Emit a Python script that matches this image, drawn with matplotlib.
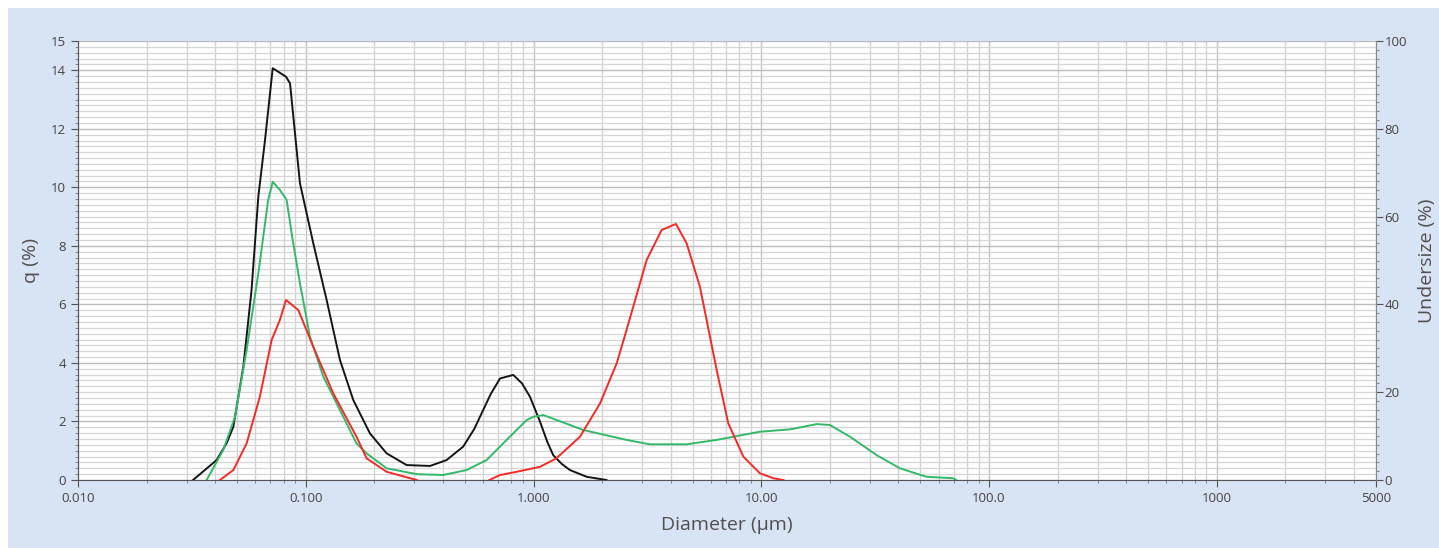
import matplotlib.pyplot as plt
from matplotlib.patches import Rectangle
from matplotlib.ticker import FixedLocator, MultipleLocator, NullFormatter

# particle size distributions, q (%) vs diameter (um)
black_d = [0.032, 0.0406, 0.0449, 0.0481, 0.0532, 0.0578, 0.0619, 0.0662, 0.0716, 0.0819,
           0.0853, 0.0943, 0.1079, 0.1235, 0.1413, 0.1617, 0.1914, 0.2265, 0.2773,
           0.351, 0.415, 0.491, 0.55, 0.601, 0.65, 0.713, 0.815, 0.89, 0.964, 1.067, 1.15,
           1.22, 1.33, 1.445, 1.71, 2.09]
black_q = [0.0, 0.68, 1.25, 1.82, 3.87, 6.49, 9.68, 11.6, 14.07, 13.78,
           13.55, 10.14, 8.09, 6.15, 4.1, 2.73, 1.59, 0.91, 0.51,
           0.48, 0.68, 1.14, 1.75, 2.39, 2.95, 3.47, 3.59, 3.3, 2.85, 2.0, 1.3,
           0.85, 0.55, 0.34, 0.11, 0.0]

green_d = [0.0367, 0.0434, 0.0489, 0.055, 0.0619, 0.0684, 0.0716, 0.077, 0.0824, 0.0867,
           0.0943, 0.1043, 0.1194, 0.1413, 0.167, 0.185, 0.2265, 0.307, 0.401, 0.508,
           0.622, 0.762, 0.933, 1.0, 1.104, 1.652, 2.56, 3.24, 4.7, 6.37, 9.86, 13.4,
           17.5, 20.0, 24.5, 32.1, 40.6, 53.1, 69.5, 71.7]
green_q = [0.0, 1.02, 2.16, 4.44, 7.06, 9.57, 10.19, 9.91, 9.57, 8.43,
           6.72, 4.9, 3.53, 2.39, 1.25, 0.91, 0.4, 0.2, 0.17, 0.34,
           0.68, 1.37, 2.05, 2.16, 2.22, 1.71, 1.37, 1.22, 1.22, 1.37, 1.65, 1.73,
           1.91, 1.88, 1.48, 0.85, 0.4, 0.11, 0.06, 0.0]

red1_d = [0.042, 0.0481, 0.055, 0.0629, 0.0708, 0.077, 0.0819, 0.0927, 0.1079, 0.1321,
          0.167, 0.185, 0.2265, 0.307]
red1_q = [0.0, 0.34, 1.25, 2.85, 4.78, 5.47, 6.15, 5.81, 4.55, 2.96,
          1.48, 0.74, 0.28, 0.0]

red2_d = [0.64, 0.713, 0.843, 1.067, 1.26, 1.6, 1.96, 2.32, 2.56, 2.74, 3.14, 3.65,
          4.22, 4.7, 5.38, 6.37, 7.16, 8.34, 9.86, 11.3, 12.5]
red2_q = [0.0, 0.17, 0.28, 0.45, 0.74, 1.48, 2.62, 3.99, 5.12, 5.92, 7.52, 8.54,
          8.75, 8.09, 6.6, 3.76, 1.94, 0.8, 0.23, 0.06, 0.0]

x_ticks = [0.01, 0.1, 1, 10, 100, 1000, 5000]
x_labels = ['0.010', '0.100', '1.000', '10.00', '100.0', '1000', '5000']

plt.rcParams['font.family'] = ['Open Sans', 'DejaVu Sans']

fig = plt.figure(figsize=(14.39, 5.48), dpi=100, facecolor='white')
fig.patches.append(Rectangle((8 / 1439, 0), 1, 1 - 8 / 548, transform=fig.transFigure,
                             facecolor='#d8e3f3', edgecolor='none', zorder=-10))

ax = fig.add_axes([78 / 1439, 1 - 480 / 548, 1298 / 1439, 439 / 548])
ax.set_facecolor('white')
ax.set_xscale('log')
ax.set_xlim(0.01, 5000)
ax.set_ylim(0, 15)

ax.plot(black_d, black_q, color='#151515', lw=1.4, zorder=3)
ax.plot(green_d, green_q, color='#35b869', lw=1.4, zorder=3)
ax.plot(red1_d, red1_q, color='#f22a2a', lw=1.4, zorder=3)
ax.plot(red2_d, red2_q, color='#f22a2a', lw=1.4, zorder=3)

minor_x = [m * 10.0 ** e for e in range(-2, 4) for m in range(2, 10) if m * 10.0 ** e < 5000]
ax.xaxis.set_major_locator(FixedLocator(x_ticks))
ax.xaxis.set_minor_locator(FixedLocator(minor_x))
ax.set_xticklabels(x_labels)
ax.xaxis.set_minor_formatter(NullFormatter())

ax.yaxis.set_major_locator(FixedLocator([0, 2, 4, 6, 8, 10, 12, 14, 15]))
ax.yaxis.set_minor_locator(MultipleLocator(0.2))

ax.grid(which='major', axis='x', color='#c4c4c4', lw=1.0)
ax.grid(which='minor', axis='x', color='#d4d4d4', lw=1.0)
ax.grid(which='major', axis='y', color='#bcbcbc', lw=1.0)
ax.grid(which='minor', axis='y', color='#d6d6d6', lw=0.9)
ax.set_axisbelow(True)

ax.tick_params(which='major', length=5, color='#555555', labelsize=9.5, labelcolor='#444444')
ax.tick_params(which='minor', length=2, color='#777777')
for s in ['top', 'right']:
    ax.spines[s].set_visible(False)
for s in ['left', 'bottom']:
    ax.spines[s].set_color('#555555')

ax.set_xlabel('Diameter (µm)', fontsize=14, color='#505050', labelpad=8)
ax.set_ylabel('q (%)', fontsize=14, color='#505050', labelpad=8)

ax2 = ax.twinx()
ax2.set_ylim(0, 100)
ax2.yaxis.set_major_locator(MultipleLocator(20))
ax2.yaxis.set_minor_locator(MultipleLocator(2))
ax2.tick_params(which='major', length=5, color='#555555', labelsize=9.5, labelcolor='#444444', pad=1)
ax2.tick_params(which='minor', length=2, color='#777777')
for s in ['top', 'left', 'bottom']:
    ax2.spines[s].set_visible(False)
ax2.spines['right'].set_color('#888888')
ax2.set_ylabel('Undersize (%)', fontsize=14, color='#505050', labelpad=8)

fig.savefig('out.png', dpi=100, facecolor=fig.get_facecolor())
